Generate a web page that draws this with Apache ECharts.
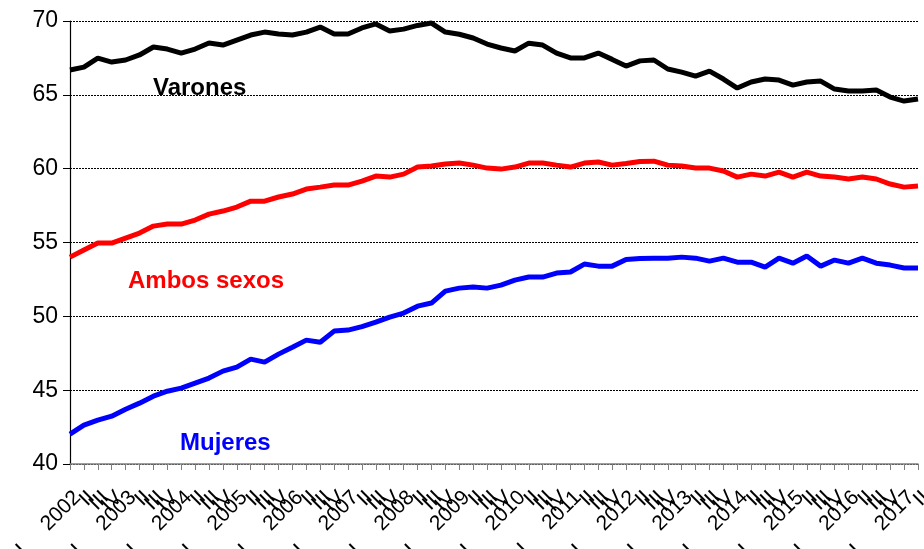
<!DOCTYPE html>
<html>
<head>
<meta charset="utf-8">
<script src="https://cdn.jsdelivr.net/npm/echarts@6/dist/echarts.min.js"></script>
<style>
html,body{margin:0;padding:0;background:#fff;}
#c{width:924px;height:549px;}
</style>
</head>
<body>
<div id="c"></div>
<script>
const categories = [
 '2002 I','II','III','IV','2003 I','II','III','IV','2004 I','II','III','IV',
 '2005 I','II','III','IV','2006 I','II','III','IV','2007 I','II','III','IV',
 '2008 I','II','III','IV','2009 I','II','III','IV','2010 I','II','III','IV',
 '2011 I','II','III','IV','2012 I','II','III','IV','2013 I','II','III','IV',
 '2014 I','II','III','IV','2015 I','II','III','IV','2016 I','II','III','IV',
 '2017 I','II'
];
const varones = [
 66.68,66.88,67.49,67.22,67.36,67.70,68.24,68.10,67.83,68.10,68.51,68.37,
 68.71,69.05,69.25,69.12,69.05,69.25,69.59,69.12,69.12,69.53,69.80,69.32,
 69.45,69.70,69.86,69.25,69.10,68.85,68.44,68.17,67.97,68.50,68.37,67.83,
 67.50,67.50,67.83,67.40,66.95,67.30,67.36,66.75,66.54,66.27,66.61,66.07,
 65.46,65.87,66.07,66.00,65.66,65.87,65.93,65.39,65.26,65.26,65.32,64.85,
 64.58,64.72
];
const ambos = [
 54.01,54.49,54.96,54.96,55.30,55.64,56.11,56.25,56.25,56.52,56.92,57.13,
 57.40,57.80,57.80,58.08,58.28,58.62,58.75,58.89,58.89,59.16,59.50,59.43,
 59.63,60.11,60.18,60.31,60.38,60.24,60.04,59.97,60.11,60.38,60.38,60.24,
 60.11,60.38,60.45,60.24,60.35,60.48,60.51,60.24,60.18,60.04,60.04,59.84,
 59.43,59.63,59.50,59.77,59.43,59.77,59.50,59.43,59.30,59.43,59.30,58.96,
 58.75,58.82
];
const mujeres = [
 42.02,42.63,42.97,43.24,43.71,44.12,44.59,44.93,45.14,45.48,45.82,46.29,
 46.56,47.10,46.90,47.44,47.91,48.39,48.25,49.00,49.07,49.30,49.61,49.95,
 50.22,50.69,50.90,51.71,51.91,51.98,51.91,52.11,52.45,52.66,52.66,52.93,
 53.00,53.54,53.40,53.40,53.85,53.91,53.94,53.94,54.01,53.94,53.74,53.94,
 53.67,53.67,53.33,53.94,53.60,54.08,53.40,53.81,53.60,53.94,53.60,53.47,
 53.27,53.27
];
const yTicks = { min: 40, max: 70, interval: 5 };
const seriesNames = ['Varones', 'Ambos sexos', 'Mujeres'];

const chart = echarts.init(document.getElementById('c'), null, { renderer: 'canvas' });
const FONT = 'Liberation Sans, Arial, sans-serif';
chart.setOption({
  animation: false,
  backgroundColor: '#ffffff',
  grid: { left: 70, right: 6, top: 21, bottom: 85, containLabel: false, outerBoundsMode: 'none' },
  xAxis: {
    type: 'category',
    data: categories,
    boundaryGap: false,
    axisLine: { lineStyle: { color: '#7f7f7f', width: 1.5 } },
    axisTick: { show: true, interval: 0, length: 6, lineStyle: { color: '#7f7f7f' } },
    axisLabel: {
      interval: 0,
      rotate: 45,
      margin: 23,
      align: 'right',
      verticalAlign: 'top',
      color: '#000',
      fontSize: 21,
      fontFamily: FONT,
      formatter: function (v) {
        const p = v.split(' ');
        if (p.length === 2) return p[1] + '     ' + p[0];
        return v;
      }
    },
    splitLine: { show: false }
  },
  yAxis: {
    type: 'value',
    min: yTicks.min, max: yTicks.max, interval: yTicks.interval,
    axisLine: { show: true, lineStyle: { color: '#000', width: 1.2 } },
    axisTick: { show: true, length: 7, lineStyle: { color: '#000' } },
    axisLabel: { color: '#000', fontSize: 23, fontFamily: FONT, margin: 12 },
    splitLine: { show: true, lineStyle: { color: '#000', type: [2, 1], width: 1 } }
  },
  series: [
    { name: seriesNames[0], type: 'line', data: varones, showSymbol: false, symbol: 'none',
      lineStyle: { color: '#000000', width: 5 }, z: 3 },
    { name: seriesNames[1], type: 'line', data: ambos, showSymbol: false, symbol: 'none',
      lineStyle: { color: '#ff0000', width: 5 }, z: 3 },
    { name: seriesNames[2], type: 'line', data: mujeres, showSymbol: false, symbol: 'none',
      lineStyle: { color: '#0000ff', width: 5 }, z: 3 }
  ],
  graphic: [
    { type: 'text', left: 153, top: 76, style: { text: seriesNames[0], fill: '#000', font: 'bold 24px ' + FONT } },
    { type: 'text', left: 128, top: 269, style: { text: seriesNames[1], fill: '#ff0000', font: 'bold 24px ' + FONT } },
    { type: 'text', left: 180, top: 431, style: { text: seriesNames[2], fill: '#0000ff', font: 'bold 24px ' + FONT } }
  ]
});
</script>
</body>
</html>
